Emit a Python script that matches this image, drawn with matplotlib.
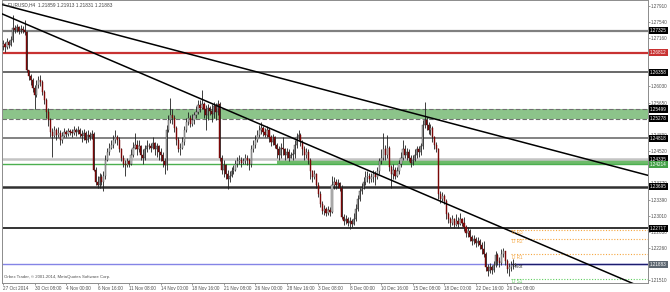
import matplotlib
matplotlib.use("Agg")
import matplotlib.pyplot as plt
from matplotlib.transforms import blended_transform_factory

plt.rcParams['font.family'] = ['Liberation Sans', 'DejaVu Sans']

# EURUSD H4 candles (27 Oct 2014 - 26 Dec 2014)
first_open = 1.2697
closes = [
    1.2702, 1.2695, 1.2706, 1.2699, 1.2711, 1.2739, 1.2734, 1.2741, 1.2732, 1.2737,
    1.2734, 1.2730, 1.2641, 1.2627, 1.2618, 1.2600, 1.2583, 1.2607, 1.2618, 1.2614,
    1.2590, 1.2572, 1.2544, 1.2525, 1.2497, 1.2488, 1.2502, 1.2490, 1.2495, 1.2479,
    1.2488, 1.2497, 1.2493, 1.2500, 1.2497, 1.2495, 1.2502, 1.2497, 1.2502, 1.2493, 1.2488,
    1.2495, 1.2479, 1.2490, 1.2484, 1.2493, 1.2409, 1.2381, 1.2374, 1.2391, 1.2381,
    1.2395, 1.2432, 1.2451, 1.2460, 1.2467, 1.2479, 1.2486, 1.2479, 1.2456, 1.2437,
    1.2423, 1.2419, 1.2428, 1.2421, 1.2444, 1.2460, 1.2467, 1.2456, 1.2463, 1.2444,
    1.2437, 1.2456, 1.2465, 1.2463, 1.2460, 1.2470, 1.2456, 1.2463, 1.2451, 1.2442, 1.2428,
    1.2419, 1.2502, 1.2525, 1.2537, 1.2530, 1.2507, 1.2479, 1.2456, 1.2460, 1.2474,
    1.2502, 1.2521, 1.2530, 1.2516, 1.2525, 1.2535, 1.2544, 1.2560, 1.2553, 1.2562,
    1.2549, 1.2535, 1.2553, 1.2546, 1.2539, 1.2558, 1.2544, 1.2562, 1.2437, 1.2409, 1.2419,
    1.2398, 1.2386, 1.2395, 1.2405, 1.2409, 1.2421, 1.2428, 1.2432, 1.2425, 1.2430, 1.2437,
    1.2432, 1.2421, 1.2456, 1.2467, 1.2479, 1.2490, 1.2502, 1.2507, 1.2497, 1.2490,
    1.2502, 1.2486, 1.2474, 1.2484, 1.2467, 1.2456, 1.2444, 1.2460, 1.2456, 1.2444,
    1.2451, 1.2437, 1.2442, 1.2446, 1.2467, 1.2484, 1.2490, 1.2474, 1.2456, 1.2444, 1.2451,
    1.2432, 1.2405, 1.2391, 1.2398, 1.2374, 1.2351, 1.2328, 1.2312, 1.2316, 1.2307,
    1.2314, 1.2309, 1.2374, 1.2381, 1.2372, 1.2377, 1.2367, 1.2298, 1.2288, 1.2293,
    1.2284, 1.2288, 1.2281, 1.2293, 1.2316, 1.2340, 1.2358, 1.2367, 1.2381, 1.2391,
    1.2395, 1.2386, 1.2391, 1.2398, 1.2391, 1.2405, 1.2428, 1.2437, 1.2456, 1.2444, 1.2460,
    1.2414, 1.2398, 1.2409, 1.2395, 1.2405, 1.2421, 1.2437, 1.2456, 1.2444, 1.2451,
    1.2437, 1.2425, 1.2432, 1.2444, 1.2456, 1.2451, 1.2463, 1.2514, 1.2525, 1.2514,
    1.2502, 1.2507, 1.2484, 1.2467, 1.2456, 1.2351, 1.2340, 1.2347, 1.2335, 1.2305,
    1.2293, 1.2284, 1.2293, 1.2279, 1.2288, 1.2281, 1.2293, 1.2284, 1.2275, 1.2261, 1.2265,
    1.2251, 1.2242, 1.2247, 1.2237, 1.2242, 1.2233, 1.2223, 1.2212, 1.2182, 1.2172,
    1.2182, 1.2175, 1.2186, 1.2210, 1.2196, 1.2191, 1.2212, 1.2219, 1.2196, 1.2177,
    1.2182, 1.2186, 1.21859, 1.21883,
]
highs = [
    1.2711, 1.2706, 1.2716, 1.2711, 1.2720, 1.2769, 1.2746, 1.2748, 1.2744, 1.2746,
    1.2744, 1.2758, 1.2732, 1.2641, 1.2632, 1.2623, 1.2607, 1.2618, 1.2627, 1.2630,
    1.2618, 1.2595, 1.2576, 1.2553, 1.2530, 1.2507, 1.2511, 1.2507, 1.2509, 1.2502,
    1.2497, 1.2507, 1.2502, 1.2507, 1.2504, 1.2504, 1.2511, 1.2507, 1.2511, 1.2507, 1.2502,
    1.2504, 1.2500, 1.2502, 1.2497, 1.2502, 1.2497, 1.2414, 1.2395, 1.2400, 1.2398,
    1.2405, 1.2442, 1.2460, 1.2472, 1.2479, 1.2490, 1.2502, 1.2490, 1.2484, 1.2460,
    1.2444, 1.2432, 1.2437, 1.2432, 1.2456, 1.2474, 1.2495, 1.2479, 1.2479, 1.2467,
    1.2456, 1.2467, 1.2479, 1.2472, 1.2472, 1.2486, 1.2474, 1.2472, 1.2467, 1.2460, 1.2451,
    1.2437, 1.2514, 1.2537, 1.2576, 1.2549, 1.2537, 1.2511, 1.2484, 1.2470, 1.2484,
    1.2511, 1.2530, 1.2542, 1.2537, 1.2539, 1.2544, 1.2558, 1.2572, 1.2572, 1.2595,
    1.2567, 1.2560, 1.2562, 1.2558, 1.2562, 1.2567, 1.2565, 1.2572, 1.2567, 1.2444, 1.2432,
    1.2421, 1.2409, 1.2405, 1.2414, 1.2419, 1.2432, 1.2439, 1.2444, 1.2439, 1.2437, 1.2446,
    1.2442, 1.2437, 1.2467, 1.2479, 1.2490, 1.2502, 1.2514, 1.2521, 1.2511, 1.2507,
    1.2511, 1.2507, 1.2490, 1.2493, 1.2488, 1.2472, 1.2465, 1.2470, 1.2486, 1.2460,
    1.2460, 1.2456, 1.2451, 1.2456, 1.2479, 1.2495, 1.2502, 1.2495, 1.2479, 1.2465, 1.2460,
    1.2456, 1.2437, 1.2409, 1.2407, 1.2402, 1.2379, 1.2358, 1.2335, 1.2326, 1.2321,
    1.2323, 1.2321, 1.2393, 1.2391, 1.2386, 1.2386, 1.2381, 1.2372, 1.2305, 1.2302,
    1.2298, 1.2298, 1.2293, 1.2307, 1.2328, 1.2349, 1.2367, 1.2377, 1.2391, 1.2405,
    1.2405, 1.2400, 1.2400, 1.2409, 1.2405, 1.2414, 1.2437, 1.2456, 1.2495, 1.2467, 1.2490,
    1.2465, 1.2419, 1.2421, 1.2414, 1.2414, 1.2432, 1.2451, 1.2479, 1.2467, 1.2460,
    1.2456, 1.2444, 1.2442, 1.2456, 1.2465, 1.2465, 1.2472, 1.2525, 1.2567, 1.2532,
    1.2521, 1.2516, 1.2511, 1.2488, 1.2474, 1.2460, 1.2358, 1.2356, 1.2351, 1.2340,
    1.2309, 1.2298, 1.2302, 1.2295, 1.2305, 1.2298, 1.2307, 1.2295, 1.2298, 1.2279, 1.2275,
    1.2270, 1.2256, 1.2256, 1.2251, 1.2251, 1.2247, 1.2240, 1.2242, 1.2216, 1.2189,
    1.2191, 1.2186, 1.2196, 1.2219, 1.2214, 1.2205, 1.2223, 1.2226, 1.2219, 1.2200,
    1.2191, 1.2196, 1.2200, 1.21913,
]
lows = [
    1.2688, 1.2683, 1.2690, 1.2692, 1.2697, 1.2706, 1.2727, 1.2730, 1.2725, 1.2727,
    1.2727, 1.2723, 1.2637, 1.2618, 1.2607, 1.2590, 1.2549, 1.2579, 1.2600, 1.2604,
    1.2583, 1.2562, 1.2530, 1.2511, 1.2486, 1.2439, 1.2484, 1.2479, 1.2484, 1.2467,
    1.2472, 1.2484, 1.2486, 1.2488, 1.2490, 1.2486, 1.2490, 1.2488, 1.2493, 1.2484, 1.2474,
    1.2479, 1.2472, 1.2474, 1.2477, 1.2481, 1.2405, 1.2372, 1.2365, 1.2367, 1.2372,
    1.2358, 1.2386, 1.2428, 1.2444, 1.2456, 1.2460, 1.2472, 1.2467, 1.2449, 1.2428,
    1.2414, 1.2393, 1.2414, 1.2414, 1.2419, 1.2439, 1.2456, 1.2444, 1.2451, 1.2432,
    1.2421, 1.2432, 1.2451, 1.2456, 1.2449, 1.2456, 1.2444, 1.2439, 1.2432, 1.2428, 1.2414,
    1.2398, 1.2409, 1.2497, 1.2518, 1.2516, 1.2497, 1.2467, 1.2449, 1.2444, 1.2456,
    1.2467, 1.2497, 1.2514, 1.2509, 1.2511, 1.2516, 1.2530, 1.2539, 1.2544, 1.2549,
    1.2530, 1.2502, 1.2525, 1.2537, 1.2521, 1.2530, 1.2525, 1.2537, 1.2428, 1.2398, 1.2391,
    1.2386, 1.2363, 1.2379, 1.2391, 1.2398, 1.2405, 1.2414, 1.2421, 1.2416, 1.2421, 1.2423,
    1.2419, 1.2409, 1.2416, 1.2451, 1.2460, 1.2474, 1.2486, 1.2493, 1.2488, 1.2484,
    1.2486, 1.2474, 1.2465, 1.2467, 1.2460, 1.2437, 1.2432, 1.2437, 1.2444, 1.2432,
    1.2437, 1.2430, 1.2435, 1.2432, 1.2437, 1.2460, 1.2477, 1.2465, 1.2444, 1.2432, 1.2437,
    1.2423, 1.2386, 1.2381, 1.2386, 1.2367, 1.2344, 1.2321, 1.2305, 1.2302, 1.2300,
    1.2302, 1.2300, 1.2307, 1.2363, 1.2363, 1.2367, 1.2358, 1.2293, 1.2279, 1.2281,
    1.2277, 1.2270, 1.2275, 1.2279, 1.2288, 1.2312, 1.2335, 1.2351, 1.2363, 1.2374,
    1.2381, 1.2377, 1.2381, 1.2381, 1.2374, 1.2386, 1.2398, 1.2421, 1.2432, 1.2432, 1.2437,
    1.2405, 1.2367, 1.2386, 1.2386, 1.2391, 1.2398, 1.2414, 1.2432, 1.2437, 1.2432,
    1.2428, 1.2416, 1.2419, 1.2428, 1.2437, 1.2439, 1.2444, 1.2456, 1.2507, 1.2502,
    1.2493, 1.2490, 1.2474, 1.2456, 1.2451, 1.2340, 1.2330, 1.2335, 1.2328, 1.2293,
    1.2284, 1.2275, 1.2279, 1.2272, 1.2277, 1.2272, 1.2279, 1.2277, 1.2265, 1.2251, 1.2251,
    1.2242, 1.2233, 1.2235, 1.2228, 1.2230, 1.2223, 1.2212, 1.2205, 1.2172, 1.2161,
    1.2168, 1.2165, 1.2170, 1.2182, 1.2186, 1.2182, 1.2186, 1.2205, 1.2186, 1.2168,
    1.2161, 1.2172, 1.2177, 1.21831,
]

date_labels = ["27 Oct 2014", "30 Oct 08:00", "4 Nov 00:00", "6 Nov 16:00", "11 Nov 08:00",
               "14 Nov 00:00", "18 Nov 16:00", "21 Nov 08:00", "26 Nov 00:00", "28 Nov 16:00",
               "3 Dec 08:00", "8 Dec 00:00", "10 Dec 16:00", "15 Dec 08:00", "18 Dec 00:00",
               "22 Dec 16:00", "26 Dec 08:00"]
bars_per_label = 16

price_ticks = [1.27910, 1.27540, 1.27160, 1.26030, 1.25650, 1.24890, 1.24520,
               1.23770, 1.23390, 1.23010, 1.22630, 1.22260, 1.21510]

# horizontal levels: (price, color, width, style)
levels = [
    (1.27325, '#808080', 1.6, '-'),
    (1.26812, '#c83232', 1.6, '-'),
    (1.26358, '#404040', 1.1, '-'),
    (1.25499, '#707070', 0.8, (0, (4, 2))),
    (1.25278, '#707070', 0.8, (0, (4, 2))),
    (1.24818, '#606060', 1.1, '-'),
    (1.24335, '#c4c4c4', 1.8, '-'),
    (1.24214, '#4caf50', 1.0, '-'),
    (1.23695, '#303030', 1.8, '-'),
    (1.22717, '#101010', 1.2, '-'),
    (1.21883, '#8484e6', 1.0, '-'),
]
# right axis boxes: (price, background)
boxes = [(1.27325, 'black'), (1.26812, '#c83232'), (1.26358, 'black'), (1.25499, 'black'),
         (1.25278, 'black'), (1.24818, 'black'), (1.24335, 'black'), (1.24214, '#43a047'),
         (1.23695, 'black'), (1.22717, 'black'), (1.21883, '#5c6670')]

upper_zone = (1.25278, 1.25499)
lower_zone = (1.24214, 1.24335)
lower_zone_start = 139

x_left, x_right = -0.5, 327.4
trend_1 = (1.27937, 1.23955)
trend_2 = (1.27719, 1.21284)

pivot_names = ["D R3", "D R2", "D R1", "Pivot", "D S1"]
pivot_prices = [1.22684, 1.22468, 1.22113, 1.21900, 1.21533]
pivot_colors = ['#f5a742', '#f5a742', '#f5a742', '#1c1c6e', '#5fcf5f']
pivot_start = 258.0

y_lo, y_hi = 1.21446, 1.28042

fig = plt.figure(figsize=(6.7, 2.92), dpi=100)
ax = fig.add_axes([2/670, 9/292, 646/670, 283/292])
ax.set_xlim(x_left, x_right)
ax.set_ylim(y_lo, y_hi)

# zones
ax.fill_between([x_left, x_right], upper_zone[0], upper_zone[1], color='#8cc48a', zorder=1, lw=0)
ax.fill_between([lower_zone_start, x_right], lower_zone[0], lower_zone[1], color='#6dbb6a', zorder=1, lw=0)

for p, col, lw, ls in levels:
    ax.axhline(p, color=col, lw=lw, ls=ls, zorder=2)

# pivot levels
for name, p, col in zip(pivot_names, pivot_prices, pivot_colors):
    if name == "Pivot":
        ax.hlines(p, pivot_start, x_right, color=col, lw=1.0, zorder=2)
        tcol = '#303030'
    else:
        ax.hlines(p, pivot_start, x_right, color=col, lw=0.8, ls=(0, (1, 1.5)), zorder=2)
        tcol = col
    ax.text(pivot_start + 0.5, p - 0.00004, name, color=tcol, fontsize=3.3, va='top', ha='left', zorder=6)

# trend lines
ax.plot([x_left, x_right], list(trend_1), color='black', lw=1.1, zorder=5)
ax.plot([x_left, x_right], list(trend_2), color='black', lw=1.1, zorder=5)

# candles
opens = [first_open] + closes[:-1]
for i, (o, h, l, c) in enumerate(zip(opens, highs, lows, closes)):
    hi = max(h, o, c)
    lo = min(l, o, c)
    ax.vlines(i, lo, hi, color='#1e1e1e', lw=0.6, zorder=3)
    bottom = min(o, c)
    height = max(abs(c - o), 0.00003)
    if c >= o:
        ax.bar(i, height, 0.6, bottom, color='#c6c6c6', edgecolor='#3a3a3a', lw=0.3, zorder=4)
    else:
        ax.bar(i, height, 0.6, bottom, color='#8a0c0c', edgecolor='#6a0000', lw=0.3, zorder=4)

# axes styling
for side in ['top', 'left', 'bottom', 'right']:
    ax.spines[side].set_color('#8c8c8c')
    ax.spines[side].set_linewidth(0.7)
ax.yaxis.tick_right()
ax.set_yticks(price_ticks)
ax.set_yticklabels([f"{p:.5f}" for p in price_ticks], fontsize=3.3, color='#505050')
ax.tick_params(axis='y', length=1.2, width=0.5, pad=0.8, colors='#707070', labelcolor='#505050')
xt = [k * bars_per_label for k in range(len(date_labels))]
ax.set_xticks(xt)
ax.set_xticklabels(date_labels, fontsize=3.3, color='#505050', ha='left')
ax.tick_params(axis='x', length=1.5, width=0.5, pad=0.5, colors='#707070', labelcolor='#505050')

tr = blended_transform_factory(ax.transAxes, ax.transData)
for p, bg in boxes:
    ax.text(1.003, p, f"{p:.5f}", transform=tr, fontsize=3.3, color='white', va='center', ha='left',
            clip_on=False, zorder=10,
            bbox=dict(boxstyle='square,pad=0.25', fc=bg, ec='none'))

fig.text(2/670, 1 - 5/292, "\u25be", fontsize=3.5, color='#404040', va='center', family='DejaVu Sans')
fig.text(8/670, 1 - 5/292, "EURUSD,H4  1.21859 1.21913 1.21831 1.21883", fontsize=3.4,
         color='#404040', va='center')
fig.text(4/670, 1 - 277/292, "Orbex Trader, \u00a9 2001-2014, MetaQuotes Software Corp.", fontsize=3.1,
         color='#505050', va='center')

fig.savefig('out.png', dpi=100, facecolor='white')
